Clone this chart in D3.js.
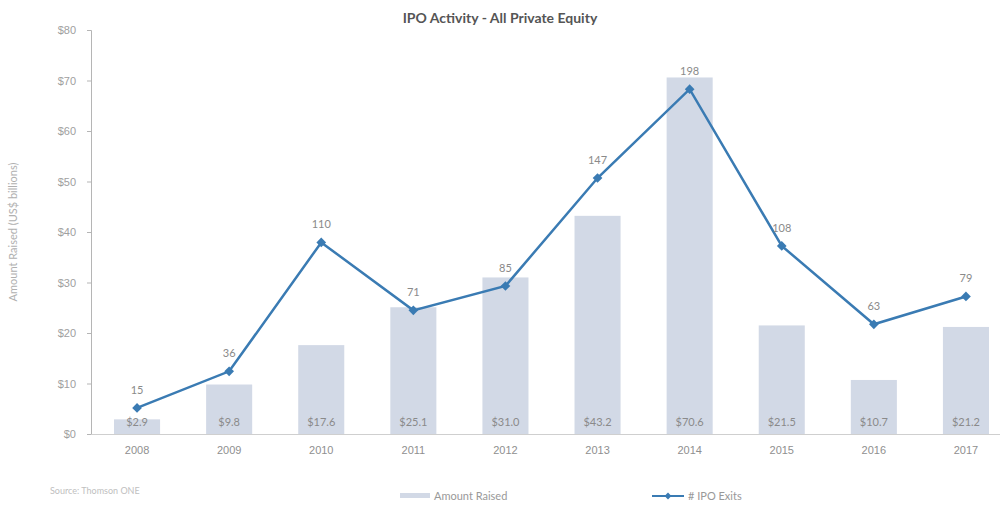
<!DOCTYPE html>
<html>
<head>
<meta charset="utf-8">
<script src="https://cdn.jsdelivr.net/npm/d3@7"></script>
<style>
  body { margin: 0; background: #fff; }
  svg { font-family: Lato, "Open Sans", sans-serif; }
</style>
</head>
<body>
<svg id="chart" width="1000" height="506"></svg>
<script>
// data
const years = ["2008", "2009", "2010", "2011", "2012", "2013", "2014", "2015", "2016", "2017"];
const amountRaised = [2.9, 9.8, 17.6, 25.1, 31.0, 43.2, 70.6, 21.5, 10.7, 21.2]; // US$ bn
const ipoExits = [15, 36, 110, 71, 85, 147, 198, 108, 63, 79];
const yTicks = [0, 10, 20, 30, 40, 50, 60, 70, 80];

// colours
const colorBar = "#d2d9e6";
const colorLine = "#3a7bb3";
const colorText = "#8a8a8a";
const colorAxis = "#b5b5b5";

const svg = d3.select("#chart");
const margin = { top: 30, right: 10, bottom: 72, left: 91 };
const height = 506 - margin.top - margin.bottom;

const g = svg.append("g").attr("transform", `translate(${margin.left},${margin.top})`);

const x = d3.scaleBand().domain(years).range([0, 921]).paddingInner(0.5).paddingOuter(0.25);
const y = d3.scaleLinear().domain([0, 80]).range([height, 0]);
// secondary axis for exits is not drawn in the original
const y2 = d3.scaleLinear().domain([0, 232]).range([height, 0]);

// title
svg.append("text")
  .attr("x", 500).attr("y", 23)
  .attr("text-anchor", "middle")
  .attr("font-size", 14).attr("font-weight", "bold")
  .attr("fill", "#555")
  .text("IPO Activity - All Private Equity");

// y axis
const yAxis = g.append("g")
  .call(d3.axisLeft(y).tickValues(yTicks).tickSize(4).tickFormat(d => "$" + d));
yAxis.select(".domain").attr("stroke", colorAxis);
yAxis.selectAll(".tick line").attr("stroke", colorAxis);
yAxis.selectAll(".tick text").attr("fill", "#a0a0a0").attr("font-size", 11).attr("dx", -8);

g.append("text")
  .attr("transform", `translate(${-74},${height / 2}) rotate(-90)`)
  .attr("text-anchor", "middle")
  .attr("font-size", 11).attr("fill", "#b0b0b0")
  .text("Amount Raised (US$ billions)");

// bars
g.selectAll("rect.bar")
  .data(amountRaised)
  .join("rect")
  .attr("class", "bar")
  .attr("x", (d, i) => x(years[i]))
  .attr("y", d => y(d))
  .attr("width", x.bandwidth())
  .attr("height", d => height - y(d))
  .attr("fill", colorBar);

// x axis
const xAxis = g.append("g")
  .attr("transform", `translate(0,${height})`)
  .call(d3.axisBottom(x).tickSize(0).tickPadding(12));
xAxis.select(".domain").attr("stroke", "#cfcfcf");
xAxis.selectAll(".tick text").attr("fill", "#8f8f8f").attr("font-size", 11);

// bar value labels
g.selectAll("text.barlabel")
  .data(amountRaised)
  .join("text")
  .attr("class", "barlabel")
  .attr("x", (d, i) => x(years[i]) + x.bandwidth() / 2)
  .attr("y", height - 8)
  .attr("text-anchor", "middle")
  .attr("font-size", 11).attr("fill", colorText)
  .text(d => "$" + d.toFixed(1));

// exits line
const line = d3.line()
  .x((d, i) => x(years[i]) + x.bandwidth() / 2)
  .y(d => y2(d));

g.append("path")
  .datum(ipoExits)
  .attr("d", line)
  .attr("fill", "none")
  .attr("stroke", colorLine)
  .attr("stroke-width", 2.5);

g.selectAll("path.marker")
  .data(ipoExits)
  .join("path")
  .attr("class", "marker")
  .attr("d", d3.symbol(d3.symbolDiamond2, 60))
  .attr("transform", (d, i) => `translate(${x(years[i]) + x.bandwidth() / 2},${y2(d)})`)
  .attr("fill", colorLine);

g.selectAll("text.exitlabel")
  .data(ipoExits)
  .join("text")
  .attr("class", "exitlabel")
  .attr("x", (d, i) => x(years[i]) + x.bandwidth() / 2)
  .attr("y", d => y2(d) - 14)
  .attr("text-anchor", "middle")
  .attr("font-size", 11).attr("fill", colorText)
  .text(d => d);

// legend
const legend = svg.append("g").attr("font-size", 11).attr("fill", "#999");
legend.append("rect")
  .attr("x", 400).attr("y", 493).attr("width", 30).attr("height", 5)
  .attr("fill", colorBar);
legend.append("text").attr("x", 434).attr("y", 500).text("Amount Raised");

legend.append("line")
  .attr("x1", 652).attr("x2", 684).attr("y1", 496).attr("y2", 496)
  .attr("stroke", colorLine).attr("stroke-width", 2);
legend.append("path")
  .attr("d", d3.symbol(d3.symbolDiamond2, 30))
  .attr("transform", "translate(668,496)")
  .attr("fill", colorLine);
legend.append("text").attr("x", 688).attr("y", 500).text("# IPO Exits");

// source note
svg.append("text")
  .attr("x", 50).attr("y", 494)
  .attr("font-size", 9).attr("fill", "#c0c0c0")
  .text("Source: Thomson ONE");
</script>
</body>
</html>
